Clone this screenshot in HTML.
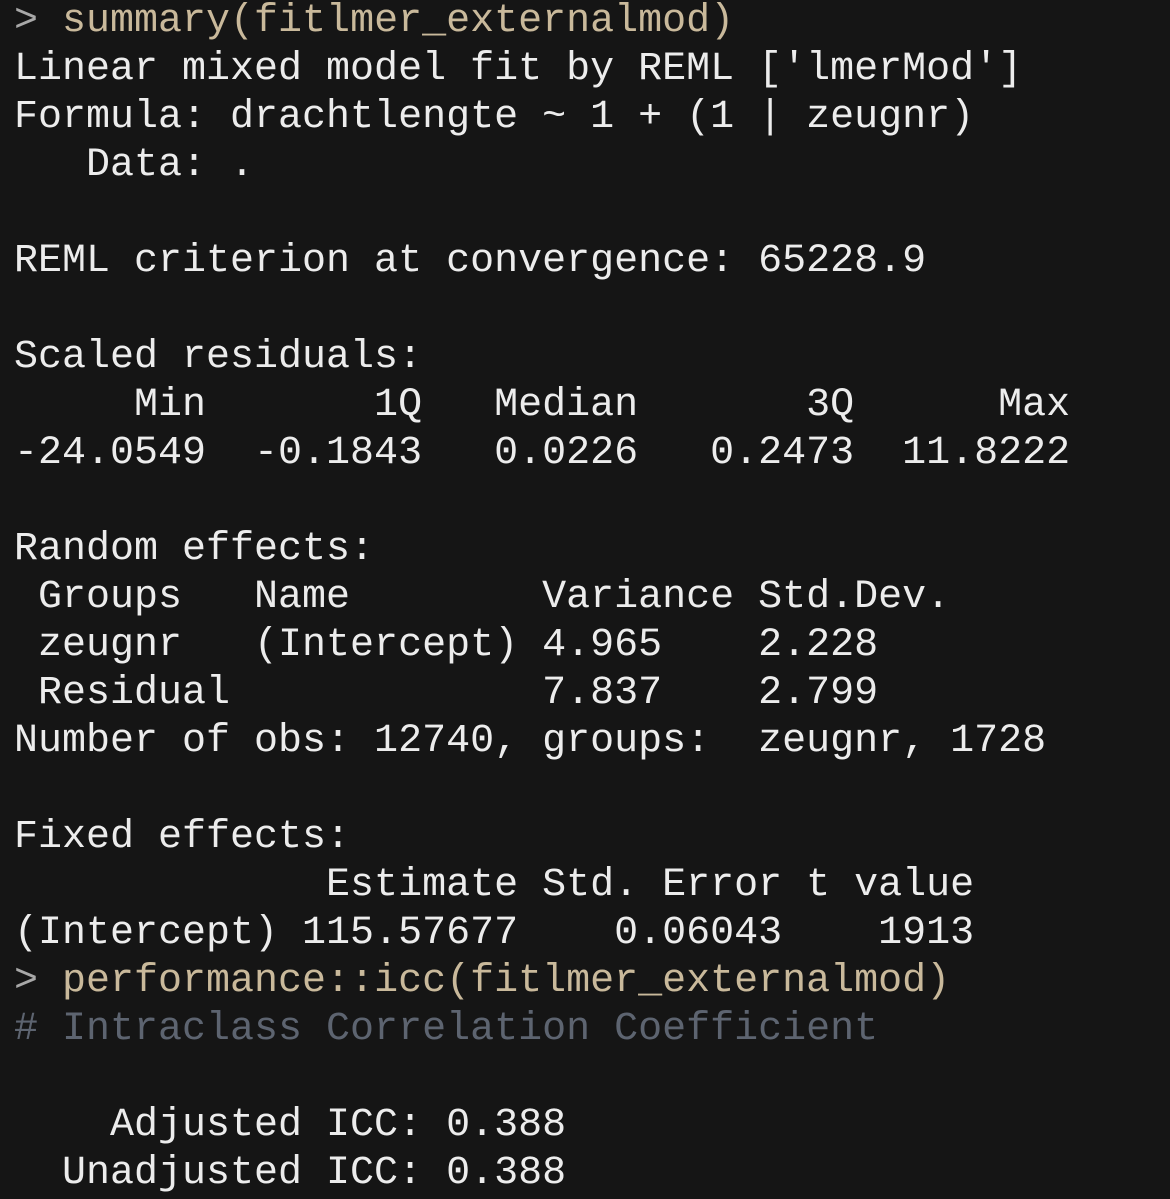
<!DOCTYPE html>
<html><head><meta charset="utf-8"><style>
html,body{margin:0;padding:0;background:#151515;width:1170px;height:1199px;overflow:hidden}
pre{margin:0;position:absolute;left:14px;top:-2px;font-family:"Liberation Mono","Courier New",monospace;font-size:40px;line-height:48px;color:#ececec}
.p{color:#a8a8a8}.c{color:#c9b99b}.g{color:#5d6470}
</style></head><body>
<pre><span class="p">&gt; </span><span class="c">summary(fitlmer_externalmod)</span>
Linear mixed model fit by REML ['lmerMod']
Formula: drachtlengte ~ 1 + (1 | zeugnr)
   Data: .

REML criterion at convergence: 65228.9

Scaled residuals:
     Min       1Q   Median       3Q      Max
-24.0549  -0.1843   0.0226   0.2473  11.8222

Random effects:
 Groups   Name        Variance Std.Dev.
 zeugnr   (Intercept) 4.965    2.228
 Residual             7.837    2.799
Number of obs: 12740, groups:  zeugnr, 1728

Fixed effects:
             Estimate Std. Error t value
(Intercept) 115.57677    0.06043    1913
<span class="p">&gt; </span><span class="c">performance::icc(fitlmer_externalmod)</span>
<span class="g"># Intraclass Correlation Coefficient</span>

    Adjusted ICC: 0.388
  Unadjusted ICC: 0.388</pre>
</body></html>
